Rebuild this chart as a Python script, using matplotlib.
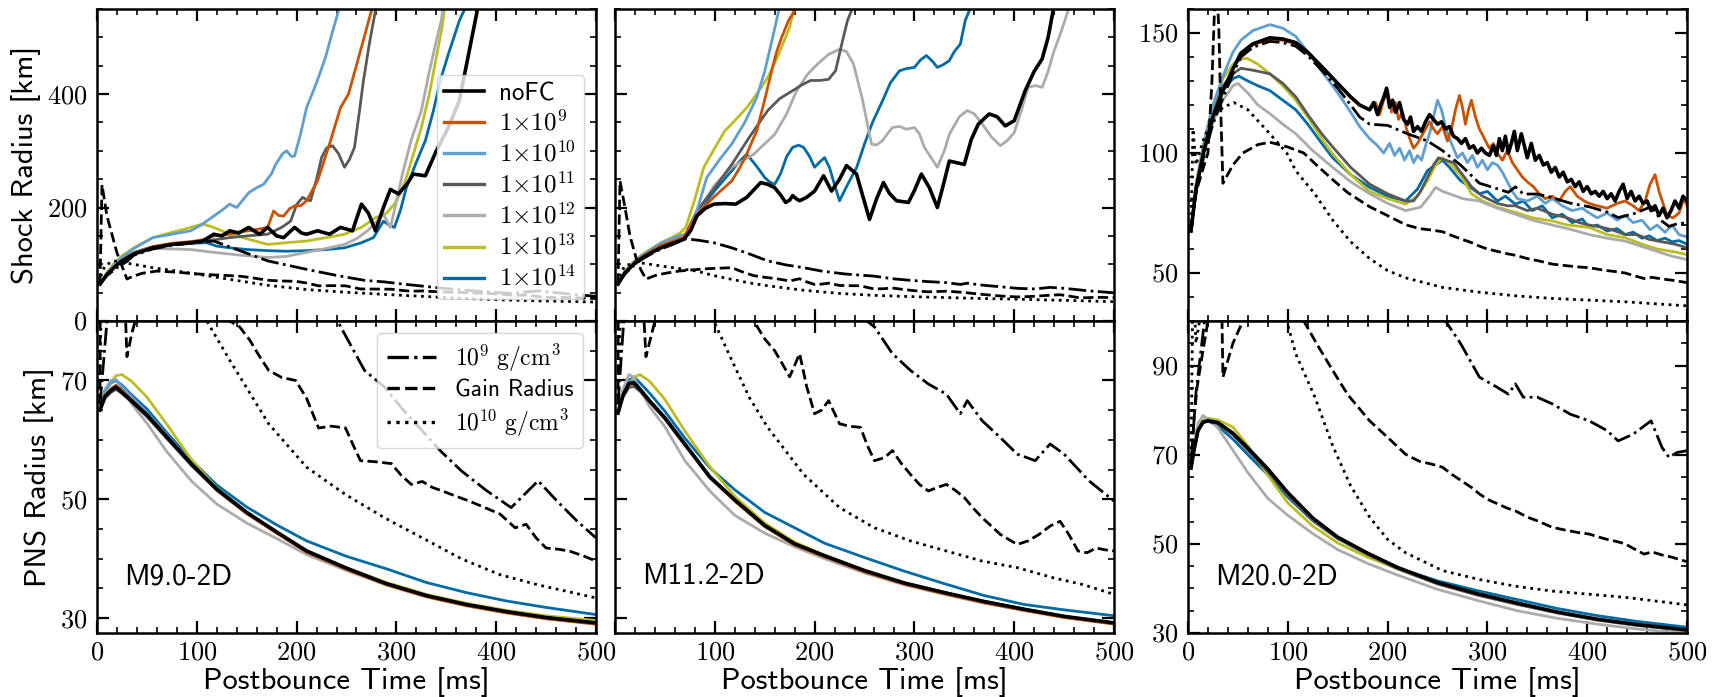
import matplotlib as mpl
import matplotlib.pyplot as plt
from matplotlib.ticker import MultipleLocator, FixedLocator, FuncFormatter
from matplotlib.lines import Line2D

# ---------------- data ----------------
# shock radius curves [ms], [km]
M90_SH_NOFC = ([3, 10, 17, 25, 37, 56, 75, 94, 106, 117, 125, 133, 142, 152, 158, 163, 171, 180, 187, 198, 205, 210, 221, 233, 244, 256, 265, 272, 279, 287, 294, 302, 310, 317, 329, 340, 352, 363, 375, 381, 386],
               [65, 82, 94, 106, 118, 129, 135, 138, 141, 153, 150, 159, 155, 165, 158, 153, 165, 150, 147, 165, 155, 153, 159, 153, 165, 159, 206, 190, 159, 200, 232, 224, 240, 259, 256, 300, 341, 388, 494, 547, 600])
M90_SH_E9 = ([3, 10, 17, 25, 37, 56, 75, 94, 106, 117, 133, 142, 152, 162, 171, 177, 182, 187, 193, 198, 204, 210, 221, 233, 244, 252, 263, 275, 282],
             [65, 82, 95, 107, 120, 131, 137, 140, 143, 150, 153, 157, 159, 162, 165, 194, 186, 185, 198, 203, 203, 212, 247, 312, 376, 400, 470, 547, 600])
M90_SH_E10 = ([3, 10, 17, 25, 37, 56, 75, 94, 105, 117, 125, 133, 140, 152, 160, 167, 175, 179, 186, 190, 195, 198, 204, 210, 220, 229, 236, 242, 248],
              [65, 84, 99, 112, 128, 147, 153, 159, 170, 185, 195, 206, 200, 226, 235, 241, 260, 276, 295, 300, 290, 291, 330, 376, 420, 465, 510, 547, 600])
M90_SH_E11 = ([3, 10, 17, 25, 37, 56, 75, 94, 117, 133, 150, 171, 185, 194, 200, 206, 210, 214, 220, 225, 230, 236, 242, 248, 253, 258, 263, 267, 273, 279, 285],
              [65, 83, 95, 107, 119, 130, 136, 139, 143, 147, 150, 153, 165, 176, 205, 218, 214, 212, 250, 288, 305, 309, 295, 271, 285, 306, 370, 424, 490, 547, 600])
M90_SH_E12 = ([3, 10, 17, 25, 37, 56, 75, 94, 117, 133, 150, 171, 190, 210, 230, 248, 260, 271, 280, 287, 291, 294, 300, 306, 315, 325, 333, 340, 345, 350],
              [65, 83, 96, 108, 120, 128, 127, 126, 121, 118, 115, 112, 114, 121, 128, 135, 145, 159, 175, 188, 175, 165, 210, 259, 320, 371, 440, 494, 530, 600])
M90_SH_E13 = ([3, 10, 17, 25, 37, 56, 75, 94, 106, 117, 133, 150, 171, 190, 210, 230, 248, 265, 279, 290, 298, 304, 310, 318, 325, 333, 340, 346, 352],
              [65, 86, 101, 115, 129, 147, 156, 165, 171, 165, 153, 145, 135, 138, 141, 147, 153, 165, 182, 190, 206, 225, 253, 300, 341, 400, 465, 520, 600])
M90_SH_E14 = ([3, 10, 17, 25, 37, 56, 75, 94, 110, 120, 133, 150, 171, 190, 210, 230, 248, 265, 277, 287, 292, 298, 304, 310, 320, 329, 337, 344, 352, 363, 371, 378],
              [65, 83, 96, 108, 121, 131, 135, 137, 138, 132, 129, 126, 124, 123, 124, 126, 129, 138, 147, 176, 170, 165, 195, 235, 280, 318, 370, 424, 470, 529, 560, 600])

M112_SH_NOFC = ([3, 10, 20, 28, 37, 46, 58, 69, 76, 82, 90, 99, 110, 121, 132, 146, 153, 160, 166, 171, 175, 178, 182, 185, 192, 200, 209, 217, 225, 232, 242, 255, 262, 269, 275, 282, 294, 300, 307, 315, 323, 329, 335, 350, 357, 364, 375, 383, 391, 400, 411, 420, 428, 434, 439, 445],
                [65, 85, 102, 112, 121, 129, 137, 144, 160, 185, 198, 206, 207, 206, 218, 244, 241, 235, 222, 209, 213, 221, 215, 212, 218, 229, 256, 229, 250, 274, 259, 179, 215, 244, 225, 212, 209, 230, 259, 235, 200, 240, 282, 276, 320, 347, 365, 360, 344, 353, 406, 440, 462, 500, 547, 600])
M112_SH_E9 = ([3, 10, 20, 28, 37, 46, 58, 69, 82, 100, 117, 125, 132, 137, 142, 150, 157, 162, 167, 174, 180, 186],
              [65, 86, 104, 114, 124, 133, 141, 148, 188, 220, 247, 270, 294, 315, 335, 390, 441, 475, 500, 530, 547, 600])
M112_SH_E10 = ([3, 10, 20, 28, 37, 46, 58, 66, 74, 83, 92, 105, 117, 130, 142, 150, 158, 164, 170],
               [65, 87, 106, 117, 127, 137, 146, 151, 153, 200, 253, 285, 312, 350, 394, 440, 500, 547, 600])
M112_SH_E11 = ([3, 10, 20, 28, 37, 46, 58, 69, 82, 100, 117, 135, 153, 165, 178, 187, 196, 205, 214, 221, 228, 233, 237, 242],
               [65, 85, 103, 113, 123, 131, 139, 146, 194, 235, 276, 325, 371, 392, 406, 416, 424, 424, 426, 441, 494, 530, 547, 600])
M112_SH_E12 = ([3, 10, 20, 28, 37, 46, 58, 69, 82, 100, 117, 139, 160, 172, 182, 193, 203, 214, 225, 232, 239, 248, 257, 262, 268, 273, 278, 285, 292, 300, 305, 310, 316, 323, 330, 335, 345, 353, 360, 368, 377, 386, 393, 400, 407, 414, 421, 428, 434, 439, 447, 454, 460],
               [65, 85, 103, 113, 123, 131, 139, 146, 190, 240, 271, 294, 329, 365, 406, 435, 453, 470, 479, 475, 453, 390, 312, 310, 318, 330, 341, 343, 338, 341, 330, 306, 290, 271, 300, 329, 360, 371, 365, 347, 325, 309, 318, 332, 370, 412, 415, 412, 440, 471, 510, 547, 600])
M112_SH_E13 = ([3, 10, 20, 28, 37, 46, 58, 65, 71, 80, 89, 100, 110, 121, 132, 142, 153, 164, 175, 179, 184],
               [65, 88, 107, 118, 128, 138, 148, 155, 165, 215, 271, 305, 335, 355, 376, 400, 429, 470, 518, 547, 600])
M112_SH_E14 = ([3, 10, 20, 28, 37, 46, 58, 69, 82, 100, 117, 124, 132, 141, 150, 155, 160, 166, 172, 178, 184, 189, 195, 200, 205, 210, 215, 220, 225, 230, 235, 242, 250, 258, 268, 276, 285, 292, 300, 306, 312, 318, 323, 329, 335, 340, 346, 351, 355, 360],
               [65, 85, 103, 113, 123, 131, 139, 146, 188, 230, 265, 280, 294, 275, 253, 245, 241, 260, 290, 306, 310, 306, 290, 271, 280, 288, 270, 240, 212, 230, 247, 270, 312, 350, 388, 420, 441, 445, 447, 460, 468, 458, 447, 452, 459, 475, 488, 530, 547, 600])

M200_SH_NOFC = ([3, 8, 16, 25, 35, 45, 53, 65, 82, 95, 108, 120, 134, 150, 163, 172, 182, 186, 190, 193, 196, 199, 202, 205, 208, 212, 216, 220, 223, 226, 230, 234, 238, 242, 246, 250, 254, 258, 262, 266, 270, 274, 278, 282, 286, 290, 294, 298, 302, 306, 309, 312, 315, 318, 321, 324, 327, 330, 334, 337, 340, 344, 348, 352, 356, 360, 364, 368, 372, 376, 380, 384, 388, 392, 396, 400, 404, 408, 412, 416, 420, 424, 428, 432, 436, 440, 444, 448, 452, 456, 460, 464, 468, 472, 476, 480, 484, 488, 492, 496, 500],
                [67.5, 85, 101, 115, 126, 135, 141.6, 145.5, 148, 147.5, 146, 142, 136, 129, 123.4, 120, 118, 121, 116, 120, 123, 127, 119, 122, 117, 121, 114, 112, 115, 109, 111, 109, 113, 116, 114, 112, 113, 110, 111, 107, 106, 104, 106, 102, 103, 100, 102, 100, 99, 103, 99, 106, 101, 107, 100, 104, 109, 101, 108, 103, 98, 104, 97, 99, 95, 96, 92, 94, 90, 92, 88, 89, 86, 88, 84, 86, 83, 84, 82, 84, 81, 83, 80, 84, 87, 81, 84, 80, 82, 79, 80, 76, 78, 74, 77, 73, 76, 80, 77, 82, 80])
M200_SH_E9 = ([3, 8, 16, 25, 35, 45, 53, 65, 82, 95, 108, 120, 134, 150, 163, 172, 182, 188, 192, 196, 200, 204, 208, 211, 215, 219, 223, 226, 230, 234, 238, 242, 246, 250, 255, 260, 264, 268, 272, 275, 278, 281, 284, 288, 292, 297, 302, 306, 310, 315, 320, 325, 330, 335, 340, 346, 352, 358, 365, 372, 378, 383, 390, 397, 402, 410, 420, 430, 438, 446, 452, 458, 463, 468, 472, 476, 480, 486, 492, 497, 500],
              [67.5, 85, 101, 115, 126, 135, 141, 145, 147.5, 147, 145.5, 141.5, 136, 129, 123, 120, 118, 121, 116, 122, 126, 117, 121, 114, 117, 110, 105, 102, 104, 107, 110, 113, 110, 108, 111, 105, 110, 118, 124, 119, 112, 118, 122, 115, 110, 106, 102, 104, 100, 97, 101, 96, 93, 90, 88, 86, 83, 81, 82, 80, 84, 86, 82, 80, 79, 78, 77, 79, 80, 78, 76, 80, 87, 91, 84, 79, 74, 73, 75, 81, 78])
M200_SH_E10 = ([3, 8, 16, 25, 35, 45, 53, 65, 82, 95, 108, 120, 134, 145, 155, 163, 172, 182, 190, 196, 202, 207, 212, 217, 222, 226, 230, 234, 238, 242, 246, 250, 254, 258, 262, 266, 270, 275, 280, 285, 290, 295, 300, 305, 310, 315, 320, 325, 330, 340, 350, 358, 365, 375, 385, 395, 402, 410, 420, 430, 438, 446, 455, 463, 470, 478, 485, 492, 500],
               [67.5, 86, 104, 120, 132, 142, 147, 151, 153.5, 152, 148.6, 142, 134, 128, 122, 117, 111, 106, 103, 100, 104, 99, 102, 97, 101, 96, 99, 97, 103, 108, 115, 122, 118, 111, 106, 102, 98, 100, 96, 99, 94, 97, 93, 96, 95, 92, 88, 84, 81, 80, 82, 79, 81, 78, 76, 77, 75, 73, 75, 72, 74, 71, 72, 68, 70, 67, 70, 66, 65])
M200_SH_E11 = ([3, 8, 16, 25, 35, 45, 53, 65, 82, 95, 108, 120, 134, 145, 163, 182, 200, 218, 226, 233, 240, 246, 251, 258, 266, 275, 284, 295, 310, 320, 328, 340, 350, 365, 380, 392, 402, 415, 425, 438, 450, 462, 475, 488, 500],
               [67.5, 85, 101, 117, 128, 133, 135.3, 134.5, 133, 129, 123.4, 116, 108, 102.5, 94, 87, 83, 80, 80, 84, 90, 95, 98, 97, 96, 91, 86, 82, 79, 78, 78, 76, 77, 74.5, 73, 71, 70, 69, 68, 66, 66, 64, 63, 62, 60.5])
M200_SH_E12 = ([3, 8, 16, 25, 35, 45, 50, 60, 70, 82, 95, 108, 125, 145, 163, 182, 200, 218, 233, 242, 248, 255, 262, 275, 292, 310, 328, 345, 365, 385, 402, 420, 438, 455, 470, 485, 500],
               [67.5, 84, 100, 113, 122, 128, 129, 125, 120, 116.4, 112, 108, 101, 94, 88, 83, 79, 76, 77.4, 82, 85.7, 84, 83, 81, 80, 77, 74.5, 72, 70, 68, 66, 64.5, 63.3, 61, 59, 57, 55.6])
M200_SH_E13 = ([3, 8, 16, 25, 35, 45, 53, 59, 70, 82, 95, 108, 120, 134, 145, 163, 182, 200, 218, 230, 240, 248, 255, 262, 268, 273, 280, 284, 295, 310, 330, 345, 365, 380, 402, 420, 438, 455, 470, 485, 500],
               [67.5, 87, 105, 120, 131, 137, 139, 139.5, 137, 133, 128, 122, 115, 106, 99.6, 91, 84, 81, 78.7, 82, 88.5, 95, 98, 96, 93, 91, 86, 83, 80, 77.4, 75, 73, 71.7, 70, 69, 66, 64.7, 62, 60, 59, 57.7])
M200_SH_E14 = ([3, 8, 16, 25, 35, 45, 51, 60, 70, 82, 95, 108, 120, 134, 145, 163, 182, 200, 218, 230, 240, 248, 255, 262, 268, 273, 282, 292, 300, 310, 318, 328, 336, 345, 355, 365, 375, 385, 395, 402, 410, 420, 430, 438, 446, 455, 462, 470, 478, 485, 492, 500],
               [67.5, 85, 101, 116, 126, 131, 132, 130, 128, 126, 122, 118, 112, 104, 98, 91, 85.7, 82, 80, 85, 92.7, 95, 97, 94, 91, 88.5, 86, 83, 84, 80, 82, 78.7, 80, 76, 78, 73, 74.5, 71, 72.5, 69, 70, 67.5, 68.5, 66, 67, 64.5, 65.5, 63.5, 64.5, 63, 63.5, 62])

# PNS radius curves [km] on a common time grid
PNS_T12 = [3, 8, 14, 19, 25, 35, 50, 70, 95, 120, 150, 180, 210, 250, 290, 330, 370, 410, 450, 500]
M90_PNS_NOFC = [65.0, 67.3, 68.3, 68.9, 68.0, 66.5, 64.2, 60.5, 55.9, 51.7, 47.8, 44.5, 41.3, 38.4, 35.8, 33.8, 32.3, 31.1, 30.1, 29.2]
M90_PNS_E9 = [65.2, 67.5, 68.6, 69.2, 68.3, 66.7, 64.3, 60.6, 55.9, 51.6, 47.6, 44.3, 41.1, 38.2, 35.6, 33.6, 32.1, 30.9, 29.9, 29.0]
M90_PNS_E10 = [65.5, 68.2, 69.8, 70.0, 69.0, 67.2, 64.6, 60.8, 56.0, 51.8, 47.8, 44.5, 41.4, 38.4, 35.8, 33.8, 32.3, 31.0, 30.0, 29.1]
M90_PNS_E11 = [65.0, 67.0, 68.0, 68.5, 67.8, 66.3, 63.9, 60.2, 55.6, 51.5, 47.6, 44.4, 41.3, 38.4, 35.8, 33.8, 32.3, 31.1, 30.1, 29.2]
M90_PNS_E12 = [65.5, 68.5, 70.0, 70.2, 68.8, 66.0, 62.8, 58.0, 53.0, 49.2, 46.0, 43.4, 40.7, 38.0, 35.6, 33.6, 32.1, 30.9, 29.9, 29.0]
M90_PNS_E13 = [65.0, 68.0, 69.8, 70.8, 71.0, 69.8, 67.2, 62.6, 56.6, 51.9, 47.8, 44.5, 41.4, 38.5, 36.0, 34.0, 32.5, 31.3, 30.4, 29.6]
M90_PNS_E14 = [65.2, 68.2, 69.6, 70.0, 69.2, 67.5, 65.2, 61.2, 56.5, 52.4, 48.7, 45.7, 43.0, 40.4, 38.3, 36.0, 34.3, 32.9, 31.8, 30.6]

M112_PNS_NOFC = [64.5, 67.5, 69.5, 69.6, 68.5, 66.5, 63.7, 59.3, 53.8, 49.9, 45.6, 42.5, 40.5, 38.0, 35.9, 34.3, 32.8, 31.5, 30.3, 29.2]
M112_PNS_E9 = [64.5, 67.4, 69.3, 69.5, 68.4, 66.4, 63.6, 59.2, 53.7, 49.7, 45.4, 42.3, 40.3, 37.8, 35.7, 34.1, 32.6, 31.3, 30.1, 29.0]
M112_PNS_E10 = [64.8, 67.8, 69.8, 69.9, 68.7, 66.6, 63.8, 59.3, 53.8, 49.8, 45.5, 42.4, 40.4, 37.9, 35.8, 34.2, 32.7, 31.4, 30.2, 29.1]
M112_PNS_E11 = [64.5, 67.2, 68.8, 69.0, 68.2, 66.3, 63.5, 59.1, 53.6, 49.8, 45.5, 42.5, 40.5, 38.0, 35.9, 34.3, 32.8, 31.5, 30.3, 29.2]
M112_PNS_E12 = [65.0, 68.5, 71.0, 70.5, 68.5, 65.5, 62.2, 56.5, 51.4, 47.3, 44.3, 42.0, 40.0, 37.6, 35.6, 34.0, 32.5, 31.3, 30.2, 29.1]
M112_PNS_E13 = [64.5, 67.5, 69.5, 70.5, 71.0, 69.8, 66.8, 61.5, 55.5, 50.5, 46.0, 42.8, 40.6, 38.1, 36.0, 34.3, 32.8, 31.5, 30.3, 29.2]
M112_PNS_E14 = [64.5, 68.0, 70.0, 70.6, 69.6, 67.8, 64.8, 60.3, 55.3, 51.6, 47.8, 45.2, 42.6, 40.2, 37.9, 35.8, 33.8, 32.3, 31.4, 30.4]

PNS_T3 = [3, 6, 10, 15, 20, 30, 45, 60, 80, 100, 125, 150, 180, 210, 250, 290, 330, 370, 410, 450, 500]
M200_PNS_NOFC = [67.0, 71.0, 75.4, 77.3, 77.6, 77.2, 74.8, 71.5, 66.8, 61.5, 55.8, 51.5, 47.9, 44.7, 41.3, 38.8, 36.7, 34.7, 33.1, 31.9, 30.7]
M200_PNS_E9 = [67.0, 71.0, 75.3, 77.2, 77.5, 77.1, 74.7, 71.4, 66.7, 61.4, 55.7, 51.4, 47.8, 44.6, 41.2, 38.7, 36.6, 34.6, 33.0, 31.8, 30.6]
M200_PNS_E10 = [67.0, 71.2, 75.6, 77.5, 77.8, 77.3, 74.9, 71.5, 66.7, 61.3, 55.6, 51.3, 47.8, 44.6, 41.2, 38.7, 36.6, 34.6, 33.0, 31.8, 30.6]
M200_PNS_E11 = [67.0, 71.2, 75.6, 77.4, 77.5, 77.0, 74.5, 71.0, 66.2, 60.9, 55.3, 51.2, 47.6, 44.4, 41.0, 38.5, 36.4, 34.5, 32.9, 31.7, 30.5]
M200_PNS_E12 = [67.0, 72.0, 77.0, 78.8, 78.0, 76.0, 71.0, 66.0, 60.2, 56.4, 52.3, 48.7, 45.6, 43.0, 39.8, 37.3, 35.0, 33.3, 32.0, 30.9, 29.9]
M200_PNS_E13 = [67.0, 71.5, 76.0, 77.8, 78.2, 77.8, 76.2, 72.0, 65.4, 59.2, 54.0, 50.2, 47.0, 44.4, 41.1, 38.6, 36.5, 34.6, 33.0, 31.8, 30.6]
M200_PNS_E14 = [67.0, 71.3, 75.8, 77.5, 77.6, 76.4, 73.5, 70.0, 65.5, 60.5, 55.2, 51.2, 47.7, 44.6, 41.7, 39.5, 37.5, 35.5, 33.9, 32.6, 31.3]

# auxiliary radii (noFC): 1e9 g/cm3, gain radius, 1e10 g/cm3
M90_RHO9 = ([3, 10, 20, 30, 37, 56, 75, 94, 106, 117, 140, 171, 210, 241, 268, 288, 307, 326, 345, 365, 390, 415, 442, 461, 480, 500],
            [66, 80, 94, 105, 116, 127, 133.5, 137, 139, 141, 126, 106, 91, 80, 71.7, 68.9, 65, 61.5, 58, 54.8, 51.5, 48.6, 53.1, 49.7, 46.5, 43.5])
M90_GAIN = ([3, 5, 10, 20, 30, 35, 45, 60, 80, 100, 120, 133, 143, 153, 163, 172, 185, 199, 210, 222, 235, 249, 257, 264, 280, 295, 305, 315, 326, 336, 346, 360, 373, 390, 404, 419, 430, 440, 450, 462, 473, 487, 500],
            [66, 240, 185, 120, 74, 78, 84, 88, 86, 83, 81, 80, 79, 76.8, 74, 71.7, 70.5, 70, 67, 62, 62.3, 62, 59, 56.5, 56.3, 56, 54, 52.5, 53, 52, 51.4, 50.5, 49.7, 48.5, 47.5, 45.2, 45.8, 43.5, 41.8, 41.6, 41.3, 40.5, 39.6])
M90_RHO10 = ([2, 4, 8, 17, 30, 56, 80, 110, 133, 172, 210, 249, 288, 326, 365, 404, 442, 500],
             [66, 80, 98, 106, 102, 94, 88, 80, 73.4, 62.7, 55.4, 50.8, 46.9, 43.5, 40, 37.3, 35.6, 33.4])

M112_RHO9 = ([3, 10, 20, 28, 37, 46, 58, 71, 85, 99, 117, 135, 153, 171, 189, 207, 230, 260, 278, 296, 314, 332, 346, 353, 368, 386, 403, 421, 436, 450, 475, 500],
             [66, 83, 100, 110, 119, 127, 135, 145, 142, 138, 129, 118, 106, 99, 94, 88, 83, 79, 74.5, 71.7, 69.4, 67.7, 64.4, 66.6, 63.2, 60.4, 57.6, 56.5, 59.3, 57.6, 53.1, 49.7])
M112_GAIN = ([3, 5, 10, 15, 21, 26, 31, 40, 50, 64, 90, 117, 130, 139, 150, 160, 167, 175, 185, 192, 200, 207, 214, 225, 235, 246, 253, 260, 270, 278, 287, 296, 305, 314, 323, 332, 341, 350, 359, 368, 377, 386, 395, 403, 414, 425, 436, 446, 455, 464, 473, 482, 491, 500],
             [66, 247, 200, 150, 112, 90, 74, 80, 84, 88, 92, 94, 85, 80, 77, 75, 73, 70.6, 74.5, 69, 64.4, 65, 66.6, 62.7, 62.3, 62.1, 59, 56.5, 57, 58.2, 56, 54.2, 52.5, 51.4, 52, 52.5, 51.5, 50.3, 48.5, 46.9, 45.5, 44.1, 43.2, 42.4, 43, 44.1, 45.5, 46.3, 44, 41.3, 41, 41.8, 41.5, 41.3])
M112_RHO10 = ([3, 6, 10, 24, 50, 82, 99, 117, 135, 153, 189, 225, 260, 296, 332, 368, 403, 439, 470, 500],
              [66, 85, 98, 103, 96, 88, 80, 73.4, 67, 62.1, 54.2, 48.6, 45.2, 43, 41.3, 39.6, 38.5, 36.8, 35.6, 34])

M200_RHO9 = ([3, 8, 16, 25, 35, 45, 53, 65, 82, 95, 108, 120, 134, 150, 163, 172, 182, 200, 220, 240, 255, 273, 292, 310, 321, 328, 336, 350, 365, 383, 402, 420, 431, 446, 464, 475, 482, 490, 500],
             [68, 84, 99, 112, 123, 133, 140, 144, 146.5, 146, 144.5, 140.5, 134.5, 127, 120, 115, 112, 111.5, 108, 105, 101, 95, 87.4, 85.1, 83.6, 85.9, 82.9, 82.9, 81.4, 79.1, 77.6, 75.4, 73.1, 74.6, 77.6, 71.6, 69.4, 70.5, 70.9])
M200_GAIN = ([3, 6, 9, 14, 20, 24, 27, 29, 31, 33, 35, 45, 55, 70, 82, 100, 116, 130, 145, 160, 182, 200, 218, 232, 244, 255, 265, 275, 285, 292, 300, 310, 320, 328, 340, 352, 365, 380, 392, 402, 412, 420, 430, 438, 446, 457, 465, 475, 485, 497, 500],
             [68, 78, 85, 92, 100, 130, 165, 170, 150, 115, 87.4, 95, 100, 103.5, 104.5, 102.5, 100, 94.5, 88.9, 83.5, 77.6, 73.9, 70.1, 68.5, 67.9, 67.2, 65.5, 64, 62.5, 61.2, 60, 59, 58, 57.4, 56, 55, 53.7, 53, 52.5, 52.2, 51.5, 51, 50.5, 50, 49, 47.7, 48.2, 47.5, 47, 46.2, 46])
M200_RHO10 = ([3, 5, 8, 15, 25, 35, 46, 60, 82, 99, 108, 127, 145, 163, 182, 200, 218, 255, 292, 328, 365, 402, 438, 497, 500],
              [68, 110, 95, 105, 115, 119, 121, 118, 108, 100, 92.6, 83, 72, 63, 56, 51, 48, 44, 42, 40.5, 39.4, 38.7, 38, 36.4, 36.3])

MODEL_LABELS = ['M9.0-2D', 'M11.2-2D', 'M20.0-2D']
RUN_LABELS = ['noFC', r'$\mathsf{1{\times}10^{9}}$', r'$\mathsf{1{\times}10^{10}}$',
              r'$\mathsf{1{\times}10^{11}}$', r'$\mathsf{1{\times}10^{12}}$',
              r'$\mathsf{1{\times}10^{13}}$', r'$\mathsf{1{\times}10^{14}}$']
RUN_COLORS = ['black', '#C85200', '#5F9ED1', '#595959', '#ABABAB', '#BCBD22', '#006BA4']
AUX_LABELS = [r'$10^9\ \mathrm{g/cm^3}$', 'Gain Radius', r'$10^{10}\ \mathrm{g/cm^3}$']
AUX_STYLES = ['-.', '--', ':']

# ---------------- figure ----------------
mpl.rcParams['font.family'] = ['cmss10', 'DejaVu Sans']
mpl.rcParams['mathtext.fontset'] = 'cm'
mpl.rcParams['axes.formatter.use_mathtext'] = True
mpl.rcParams['axes.linewidth'] = 1.8

fig = plt.figure(figsize=(17.25, 6.97), dpi=100)

W, H = 1725.0, 697.0
lefts = [97, 615, 1188]
pw = 499
ph = 312
row_bottoms = [321, 633]   # pixel y of lower spine (top row, bottom row)

shock_sets = [
    [M90_SH_NOFC, M90_SH_E9, M90_SH_E10, M90_SH_E11, M90_SH_E12, M90_SH_E13, M90_SH_E14],
    [M112_SH_NOFC, M112_SH_E9, M112_SH_E10, M112_SH_E11, M112_SH_E12, M112_SH_E13, M112_SH_E14],
    [M200_SH_NOFC, M200_SH_E9, M200_SH_E10, M200_SH_E11, M200_SH_E12, M200_SH_E13, M200_SH_E14],
]
pns_sets = [
    (PNS_T12, [M90_PNS_NOFC, M90_PNS_E9, M90_PNS_E10, M90_PNS_E11, M90_PNS_E12, M90_PNS_E13, M90_PNS_E14]),
    (PNS_T12, [M112_PNS_NOFC, M112_PNS_E9, M112_PNS_E10, M112_PNS_E11, M112_PNS_E12, M112_PNS_E13, M112_PNS_E14]),
    (PNS_T3, [M200_PNS_NOFC, M200_PNS_E9, M200_PNS_E10, M200_PNS_E11, M200_PNS_E12, M200_PNS_E13, M200_PNS_E14]),
]
aux_sets = [
    [M90_RHO9, M90_GAIN, M90_RHO10],
    [M112_RHO9, M112_GAIN, M112_RHO10],
    [M200_RHO9, M200_GAIN, M200_RHO10],
]

tick_fmt = FuncFormatter(lambda v, p: '$%g$' % v)
# middle panel: the "0" would collide with the "500" of the left panel
tick_fmt_no0 = FuncFormatter(lambda v, p: '' if v == 0 else '$%g$' % v)


def style_axis(ax):
    ax.tick_params(which='both', direction='in', top=True, right=True,
                   labelsize=19)
    ax.tick_params(which='major', length=8.5, width=1.6)
    ax.tick_params(which='minor', length=4.5, width=1.2)
    ax.tick_params(axis='y', pad=7)
    ax.tick_params(axis='x', pad=6)
    ax.set_xlim(0, 500)
    ax.xaxis.set_major_locator(MultipleLocator(100))
    ax.xaxis.set_minor_locator(MultipleLocator(20))
    ax.xaxis.set_major_formatter(tick_fmt)
    ax.yaxis.set_major_formatter(tick_fmt)


for col in range(3):
    x0 = lefts[col] / W
    ax_top = fig.add_axes([x0, 1 - row_bottoms[0] / H, pw / W, ph / H])
    ax_bot = fig.add_axes([x0, 1 - row_bottoms[1] / H, pw / W, ph / H])

    # shock radii: colored runs first, noFC on top
    for i in range(6, -1, -1):
        t, r = shock_sets[col][i]
        ax_top.plot(t, r, color=RUN_COLORS[i], lw=2.6 if i == 0 else 2.0,
                    zorder=3 if i == 0 else 2)
    tp, pns_runs = pns_sets[col]
    for i in range(6, -1, -1):
        ax_bot.plot(tp, pns_runs[i], color=RUN_COLORS[i],
                    lw=2.6 if i == 0 else 2.0, zorder=3 if i == 0 else 2)
    # auxiliary radii on both rows
    for ax in (ax_top, ax_bot):
        for (t, r), ls in zip(aux_sets[col], AUX_STYLES):
            ax.plot(t, r, color='black', ls=ls, lw=2.0, zorder=4)

    style_axis(ax_top)
    style_axis(ax_bot)
    ax_top.tick_params(labelbottom=False)

    if col < 2:
        ax_top.set_ylim(0, 550)
        ax_top.yaxis.set_major_locator(MultipleLocator(200))
        ax_top.yaxis.set_minor_locator(MultipleLocator(50))
        ax_bot.set_ylim(27.5, 80)
        ax_bot.yaxis.set_major_locator(FixedLocator([30, 50, 70]))
        ax_bot.yaxis.set_minor_locator(MultipleLocator(5))
    else:
        ax_top.set_ylim(30, 160)
        ax_top.yaxis.set_major_locator(MultipleLocator(50))
        ax_top.yaxis.set_minor_locator(MultipleLocator(10))
        ax_bot.set_ylim(30, 100)
        ax_bot.yaxis.set_major_locator(FixedLocator([30, 50, 70, 90]))
        ax_bot.yaxis.set_minor_locator(MultipleLocator(5))
    if col == 1:
        ax_top.tick_params(labelleft=False)
        ax_bot.tick_params(labelleft=False)
        ax_bot.xaxis.set_major_formatter(tick_fmt_no0)

    ax_bot.set_xlabel('Postbounce Time [ms]', fontsize=22, labelpad=2)
    ax_bot.text(0.055, 0.18, MODEL_LABELS[col], transform=ax_bot.transAxes,
                fontsize=21, va='center', ha='left')

    if col == 0:
        ax_top.set_ylabel('Shock Radius [km]', fontsize=22)
        ax_bot.set_ylabel('PNS Radius [km]', fontsize=22)
        run_handles = [Line2D([], [], color=c, lw=2.6 if k == 0 else 2.4)
                       for k, c in enumerate(RUN_COLORS)]
        leg = ax_top.legend(run_handles, RUN_LABELS, loc='upper right',
                            bbox_to_anchor=(0.976, 0.79), borderaxespad=0,
                            fontsize=18, handlelength=1.6, handletextpad=0.6,
                            labelspacing=0.2, borderpad=0.3,
                            framealpha=0.8, edgecolor='0.8')
        leg.set_zorder(10)
        aux_handles = [Line2D([], [], color='black', ls=s, lw=2.4)
                       for s in AUX_STYLES]
        leg2 = ax_bot.legend(aux_handles, AUX_LABELS, loc='upper right',
                             bbox_to_anchor=(0.974, 0.962), borderaxespad=0,
                             fontsize=17, handlelength=2.1, handletextpad=0.8,
                             labelspacing=0.25, borderpad=0.4,
                             framealpha=0.8, edgecolor='0.8')
        leg2.set_zorder(10)

fig.savefig('out.png', dpi=100)
